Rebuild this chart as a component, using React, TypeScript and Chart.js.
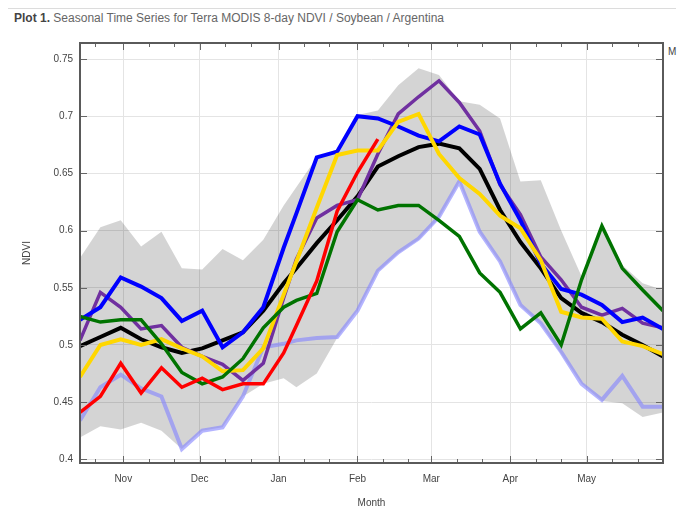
import React, { useEffect, useRef } from 'react';
import { Chart, registerables } from 'chart.js';

Chart.register(...registerables);

// Composite dates, days relative to 1 January (prior season negative)
const days = [-78, -70, -62, -54, -46, -38, -30, -22, -14, -6, 2, 7, 15, 23, 31, 39, 47, 55, 63, 71, 79, 87, 95, 103, 111, 119, 127, 135, 143, 151];

const monthTickDays = [-61, -31, 0, 31, 60, 91, 121];
const monthLabels = ['Nov', 'Dec', 'Jan', 'Feb', 'Mar', 'Apr', 'May'];
const minorTickDays = [-72, -51, -41, -21, -11, 10, 20, 41, 51, 70, 80, 101, 111, 131, 141];

const yTickValues = [0.4, 0.45, 0.5, 0.55, 0.6, 0.65, 0.7, 0.75];
const yTickLabels = ['0.4', '0.45', '0.5', '0.55', '0.6', '0.65', '0.7', '0.75'];

const bandUpper = [0.576, 0.603, 0.609, 0.586, 0.599, 0.567, 0.566, 0.584, 0.574, 0.592, 0.622, 0.638, 0.664, 0.671, 0.701, 0.705, 0.727, 0.742, 0.736, 0.713, 0.710, 0.698, 0.643, 0.644, 0.600, 0.560, 0.605, 0.570, 0.554, 0.548];
const bandLower = [0.419, 0.429, 0.426, 0.432, 0.425, 0.409, 0.425, 0.428, 0.455, 0.466, 0.471, 0.463, 0.475, 0.506, 0.530, 0.564, 0.580, 0.592, 0.611, 0.642, 0.598, 0.572, 0.534, 0.518, 0.492, 0.466, 0.451, 0.449, 0.437, 0.441];

const meanSeries = [0.499, 0.507, 0.515, 0.505, 0.498, 0.493, 0.497, 0.504, 0.511, 0.530, 0.554, 0.567, 0.589, 0.609, 0.630, 0.656, 0.665, 0.673, 0.676, 0.672, 0.654, 0.618, 0.590, 0.567, 0.541, 0.528, 0.520, 0.509, 0.500, 0.490];
const blueSeries = [0.522, 0.533, 0.559, 0.551, 0.541, 0.521, 0.530, 0.498, 0.511, 0.533, 0.585, 0.615, 0.664, 0.669, 0.700, 0.698, 0.691, 0.683, 0.678, 0.691, 0.684, 0.641, 0.609, 0.571, 0.549, 0.544, 0.535, 0.520, 0.524, 0.514];
const purpleSeries = [0.504, 0.546, 0.533, 0.514, 0.517, 0.498, 0.490, 0.483, 0.469, 0.484, 0.541, 0.575, 0.611, 0.622, 0.627, 0.667, 0.702, 0.717, 0.731, 0.712, 0.687, 0.640, 0.614, 0.577, 0.557, 0.533, 0.526, 0.532, 0.519, 0.515];
const greenSeries = [0.525, 0.520, 0.522, 0.522, 0.501, 0.476, 0.466, 0.472, 0.488, 0.515, 0.533, 0.539, 0.545, 0.599, 0.627, 0.618, 0.622, 0.622, 0.609, 0.595, 0.563, 0.546, 0.514, 0.528, 0.500, 0.557, 0.604, 0.567, 0.548, 0.530];
const yellowSeries = [0.472, 0.500, 0.505, 0.500, 0.505, 0.497, 0.490, 0.477, 0.478, 0.497, 0.544, 0.573, 0.620, 0.666, 0.670, 0.670, 0.695, 0.702, 0.667, 0.646, 0.632, 0.613, 0.602, 0.574, 0.529, 0.524, 0.523, 0.503, 0.499, 0.492];
const redSeries = [0.441, 0.455, 0.484, 0.458, 0.480, 0.463, 0.471, 0.461, 0.466, 0.466, 0.493, 0.517, 0.556, 0.617, 0.651, 0.680];
const lightBlueSeries = [0.434, 0.463, 0.474, 0.462, 0.455, 0.409, 0.425, 0.428, 0.455, 0.498, 0.501, 0.504, 0.506, 0.507, 0.530, 0.565, 0.581, 0.593, 0.612, 0.643, 0.599, 0.573, 0.535, 0.519, 0.494, 0.466, 0.452, 0.473, 0.446, 0.446];

const FONT = "'Liberation Sans', Arial, Helvetica, sans-serif";

const pts = (vals: number[]) => vals.map((v, i) => ({ x: days[i], y: v }));

const framePlugin = {
  id: 'frameTicks',
  afterDatasetsDraw(chart: any) {
    const { ctx, chartArea, scales } = chart;
    const { left, right, top, bottom } = chartArea;
    const x = scales.x;
    const y = scales.y;
    ctx.save();
    ctx.strokeStyle = '#666';
    ctx.lineWidth = 1;
    const seg = (x1: number, y1: number, x2: number, y2: number) => {
      ctx.beginPath();
      ctx.moveTo(x1, y1);
      ctx.lineTo(x2, y2);
      ctx.stroke();
    };
    monthTickDays.forEach((d) => {
      const px = Math.round(x.getPixelForValue(d)) + 0.5;
      seg(px, bottom, px, bottom - 7);
      seg(px, top, px, top + 7);
    });
    minorTickDays.forEach((d) => {
      const px = Math.round(x.getPixelForValue(d)) + 0.5;
      seg(px, bottom, px, bottom - 4);
      seg(px, top, px, top + 4);
    });
    yTickValues.forEach((v) => {
      const py = Math.round(y.getPixelForValue(v)) + 0.5;
      seg(left, py, left + 7, py);
      seg(right, py, right - 7, py);
    });
    ctx.strokeStyle = '#5a5a5a';
    ctx.lineWidth = 2;
    ctx.strokeRect(left, top, right - left, bottom - top);
    ctx.restore();
  },
};

export default function App() {
  const ref = useRef<HTMLCanvasElement>(null);

  useEffect(() => {
    const canvas = ref.current;
    if (!canvas) return;
    const line = (label: string, vals: number[], color: string, width: number, order: number) => ({
      label,
      data: pts(vals),
      borderColor: color,
      backgroundColor: color,
      borderWidth: width,
      pointRadius: 0,
      tension: 0,
      fill: false,
      order,
    });
    const chart = new Chart(canvas, {
      type: 'line',
      data: {
        datasets: [
          line('Current', redSeries, '#ff0000', 3.5, 1),
          line('Green', greenSeries, '#007300', 3.5, 2),
          line('Yellow', yellowSeries, '#ffd700', 4, 3),
          line('Blue', blueSeries, '#0000ff', 4, 4),
          line('Purple', purpleSeries, '#7030a0', 3.5, 5),
          line('Mean', meanSeries, '#000000', 4, 6),
          line('LightBlue', lightBlueSeries, 'rgba(130,130,255,0.6)', 4, 7),
          {
            label: 'Max',
            data: pts(bandUpper),
            borderWidth: 0,
            borderColor: 'rgba(0,0,0,0)',
            backgroundColor: 'rgba(0,0,0,0.17)',
            pointRadius: 0,
            tension: 0,
            fill: '+1',
            order: 8,
          },
          {
            label: 'Min',
            data: pts(bandLower),
            borderWidth: 0,
            borderColor: 'rgba(0,0,0,0)',
            pointRadius: 0,
            tension: 0,
            fill: false,
            order: 9,
          },
        ],
      },
      options: {
        animation: false,
        responsive: false,
        devicePixelRatio: 1,
        layout: { padding: { top: 43, right: 20, left: 0, bottom: 0 } },
        plugins: {
          legend: { display: false },
          tooltip: { enabled: false },
        },
        scales: {
          x: {
            type: 'linear',
            min: -78,
            max: 151,
            afterBuildTicks: (s: any) => {
              s.ticks = monthTickDays.map((v) => ({ value: v }));
            },
            afterFit: (s: any) => {
              s.height = 62;
            },
            ticks: {
              autoSkip: false,
              maxRotation: 0,
              padding: 10,
              color: '#444',
              font: { family: FONT, size: 10 },
              callback: (_v: any, i: number) => monthLabels[i],
            },
            grid: { color: '#e4e4e4', lineWidth: 1, drawTicks: false },
            border: { display: false },
            title: {
              display: true,
              text: 'Month',
              color: '#444',
              font: { family: FONT, size: 10 },
              padding: { top: 0, bottom: 16 },
            },
          },
          y: {
            type: 'linear',
            min: 0.3968,
            max: 0.764,
            afterBuildTicks: (s: any) => {
              s.ticks = yTickValues.map((v) => ({ value: v }));
            },
            afterFit: (s: any) => {
              s.width = 80;
            },
            ticks: {
              padding: 7,
              color: '#444',
              font: { family: FONT, size: 10 },
              callback: (_v: any, i: number) => yTickLabels[i],
            },
            grid: { color: '#e4e4e4', lineWidth: 1, drawTicks: false },
            border: { display: false },
            title: {
              display: true,
              text: 'NDVI',
              color: '#444',
              font: { family: FONT, size: 10 },
              padding: { top: 21, bottom: 0 },
            },
          },
        },
      },
      plugins: [framePlugin],
    } as any);
    return () => chart.destroy();
  }, []);

  return (
    <div style={{ position: 'absolute', left: 0, top: 0, width: 683, height: 525, background: '#fff', overflow: 'hidden' }}>
      <div style={{ position: 'absolute', left: 8, top: 8, width: 668, height: 1, background: '#dcdcdc' }} />
      <div
        style={{
          position: 'absolute',
          left: 14,
          top: 10,
          lineHeight: '16px',
          fontFamily: FONT,
          fontSize: 12,
          color: '#666',
          whiteSpace: 'nowrap',
        }}
      >
        <span style={{ fontWeight: 'bold', color: '#444' }}>Plot 1.</span> Seasonal Time Series for Terra MODIS 8-day NDVI / Soybean / Argentina
      </div>
      <div
        style={{
          position: 'absolute',
          left: 668,
          top: 45,
          lineHeight: '14px',
          fontFamily: FONT,
          fontSize: 10,
          color: '#444',
          whiteSpace: 'nowrap',
        }}
      >
        M
      </div>
      <canvas ref={ref} width={683} height={525} style={{ position: 'absolute', left: 0, top: 0, width: 683, height: 525 }} />
    </div>
  );
}
